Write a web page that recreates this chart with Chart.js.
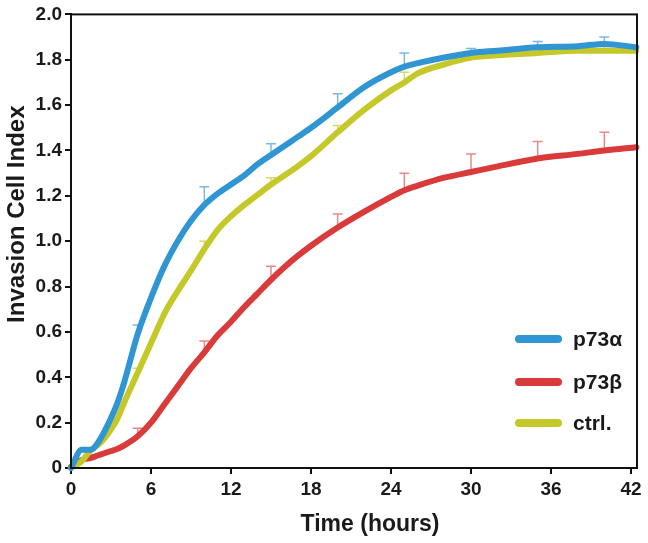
<!DOCTYPE html>
<html>
<head>
<meta charset="utf-8">
<script src="https://cdn.jsdelivr.net/npm/chart.js@4/dist/chart.umd.min.js"></script>
<style>
  html, body { margin: 0; padding: 0; background: #fff; }
  #wrap { width: 648px; height: 543px; }
</style>
</head>
<body>
<div id="wrap"><canvas id="chart" width="648" height="543"></canvas></div>
<script>
// Data
const hours = [0, 0.8, 1.5, 2, 2.5, 3, 3.5, 4, 5, 6, 7, 8, 9, 10, 11, 12, 13, 14, 15, 16, 17, 18, 20, 22, 24, 25, 26, 28, 30, 32, 35, 38, 40, 42.4];
const p73a = [0, 0.08, 0.08, 0.11, 0.16, 0.22, 0.29, 0.38, 0.59, 0.75, 0.89, 1.00, 1.09, 1.16, 1.21, 1.25, 1.29, 1.34, 1.38, 1.42, 1.46, 1.50, 1.59, 1.68, 1.745, 1.77, 1.785, 1.81, 1.83, 1.84, 1.855, 1.86, 1.87, 1.855];
const p73b = [0.005, 0.035, 0.045, 0.055, 0.065, 0.075, 0.085, 0.10, 0.14, 0.20, 0.28, 0.36, 0.44, 0.51, 0.585, 0.645, 0.71, 0.77, 0.83, 0.885, 0.935, 0.98, 1.06, 1.13, 1.195, 1.225, 1.245, 1.28, 1.305, 1.33, 1.365, 1.385, 1.40, 1.414];
const ctrl = [0, 0.03, 0.08, 0.10, 0.13, 0.17, 0.22, 0.29, 0.42, 0.55, 0.68, 0.78, 0.87, 0.965, 1.05, 1.11, 1.16, 1.205, 1.25, 1.29, 1.33, 1.375, 1.48, 1.58, 1.665, 1.70, 1.74, 1.78, 1.81, 1.82, 1.83, 1.84, 1.84, 1.84];

// upper error bars (SD) at these hours
const errHours = [5, 10, 15, 20, 25, 30, 35, 40];
const p73aErr = [0.04, 0.08, 0.05, 0.06, 0.06, 0.02, 0.025, 0.03];
const p73bErr = [0.035, 0.05, 0.06, 0.06, 0.075, 0.08, 0.075, 0.08];
const ctrlErr = [0.02, 0.035, 0.03, 0.03, 0.045, 0.02, 0.025, 0.02];

const xTicks = [0, 6, 12, 18, 24, 30, 36, 42];
const seriesLabels = ['p73\u03b1', 'p73\u03b2', 'ctrl.'];
const seriesColors = ['#2f95d3', '#d93b3b', '#c4c828'];
const errColors = ['rgba(47,149,211,0.65)', 'rgba(217,59,59,0.6)', 'rgba(196,200,40,0.7)'];

const FONT = '"Liberation Sans", Arial, sans-serif';

function toPoints(vals) {
  return hours.map((h, i) => ({ x: h, y: vals[i] }));
}

// error bars drawn through the scales
const errorBars = {
  id: 'errorBars',
  beforeDatasetsDraw(chart) {
    const ctx = chart.ctx;
    const xs = chart.scales.x, ys = chart.scales.y;
    const sets = [[p73a, p73aErr], [p73b, p73bErr], [ctrl, ctrlErr]];
    ctx.save();
    ctx.lineWidth = 1.5;
    sets.forEach((s, k) => {
      ctx.strokeStyle = errColors[k];
      errHours.forEach((h, i) => {
        const idx = hours.indexOf(h);
        const v = s[0][idx];
        const px = xs.getPixelForValue(h);
        const y0 = ys.getPixelForValue(v);
        const y1 = ys.getPixelForValue(v + s[1][i]);
        ctx.beginPath();
        ctx.moveTo(px, y0);
        ctx.lineTo(px, y1);
        ctx.moveTo(px - 5, y1);
        ctx.lineTo(px + 5, y1);
        ctx.stroke();
      });
    });
    ctx.restore();
  }
};

// frame, axis titles, legend
const decor = {
  id: 'decor',
  afterDraw(chart) {
    const ctx = chart.ctx;
    const a = chart.chartArea;
    ctx.save();
    ctx.strokeStyle = '#111';
    ctx.lineWidth = 2;
    ctx.strokeRect(a.left, a.top, a.right - a.left, a.bottom - a.top);

    ctx.fillStyle = '#1a1a1a';
    ctx.font = 'bold 23px ' + FONT;
    ctx.textAlign = 'center';
    ctx.textBaseline = 'middle';
    ctx.fillText('Time (hours)', (a.left + a.right) / 2 + 16, a.bottom + 57);

    ctx.save();
    ctx.font = 'bold 24px ' + FONT;
    ctx.translate(a.left - 54, (a.top + a.bottom) / 2 - 27);
    ctx.rotate(-Math.PI / 2);
    ctx.fillText('Invasion Cell Index', 0, 0);
    ctx.restore();

    // legend
    ctx.font = 'bold 21px ' + FONT;
    ctx.textAlign = 'left';
    ctx.lineCap = 'round';
    ctx.lineWidth = 8;
    const rows = [a.bottom - 129, a.bottom - 86, a.bottom - 45];
    chart.data.datasets.forEach((ds, i) => {
      ctx.strokeStyle = ds.borderColor;
      ctx.beginPath();
      ctx.moveTo(a.right - 118, rows[i]);
      ctx.lineTo(a.right - 79, rows[i]);
      ctx.stroke();
      ctx.fillText(ds.label, a.right - 64, rows[i] + 1);
    });
    ctx.restore();
  }
};

const datasets = [p73a, p73b, ctrl].map((vals, i) => ({
  label: seriesLabels[i],
  data: toPoints(vals),
  borderColor: seriesColors[i],
  backgroundColor: seriesColors[i],
  borderWidth: 6,
  borderCapStyle: 'round',
  borderJoinStyle: 'round',
  pointRadius: 0,
  tension: 0.3,
  cubicInterpolationMode: 'monotone',
  clip: false
}));
// draw red, then yellow, then blue on top like the reference
datasets[0].order = 0;
datasets[2].order = 1;
datasets[1].order = 2;

new Chart(document.getElementById('chart'), {
  type: 'line',
  data: { datasets },
  options: {
    responsive: false,
    animation: false,
    layout: { padding: { top: 12, right: 11, left: 0, bottom: 0 } },
    plugins: { legend: { display: false }, tooltip: { enabled: false } },
    scales: {
      x: {
        type: 'linear',
        min: 0,
        max: 42.45,
        afterBuildTicks: s => { s.ticks = xTicks.map(v => ({ value: v })); },
        afterFit: s => { s.height = 75; },
        grid: { display: true, drawOnChartArea: false, drawTicks: true, tickLength: 6, color: '#111', lineWidth: 2 },
        border: { display: true, color: '#111', width: 2 },
        ticks: { color: '#1a1a1a', padding: 4, maxRotation: 0, font: { family: FONT, size: 19, weight: 'bold' } }
      },
      y: {
        min: 0,
        max: 2,
        afterFit: s => { s.width = 71; },
        grid: { display: true, drawOnChartArea: false, drawTicks: true, tickLength: 6, color: '#111', lineWidth: 2 },
        border: { display: true, color: '#111', width: 2 },
        ticks: {
          stepSize: 0.2,
          color: '#1a1a1a',
          padding: 3,
          font: { family: FONT, size: 19, weight: 'bold' },
          callback: v => Math.abs(v) < 1e-9 ? '0' : v.toFixed(1)
        }
      }
    }
  },
  plugins: [errorBars, decor]
});
</script>
</body>
</html>
